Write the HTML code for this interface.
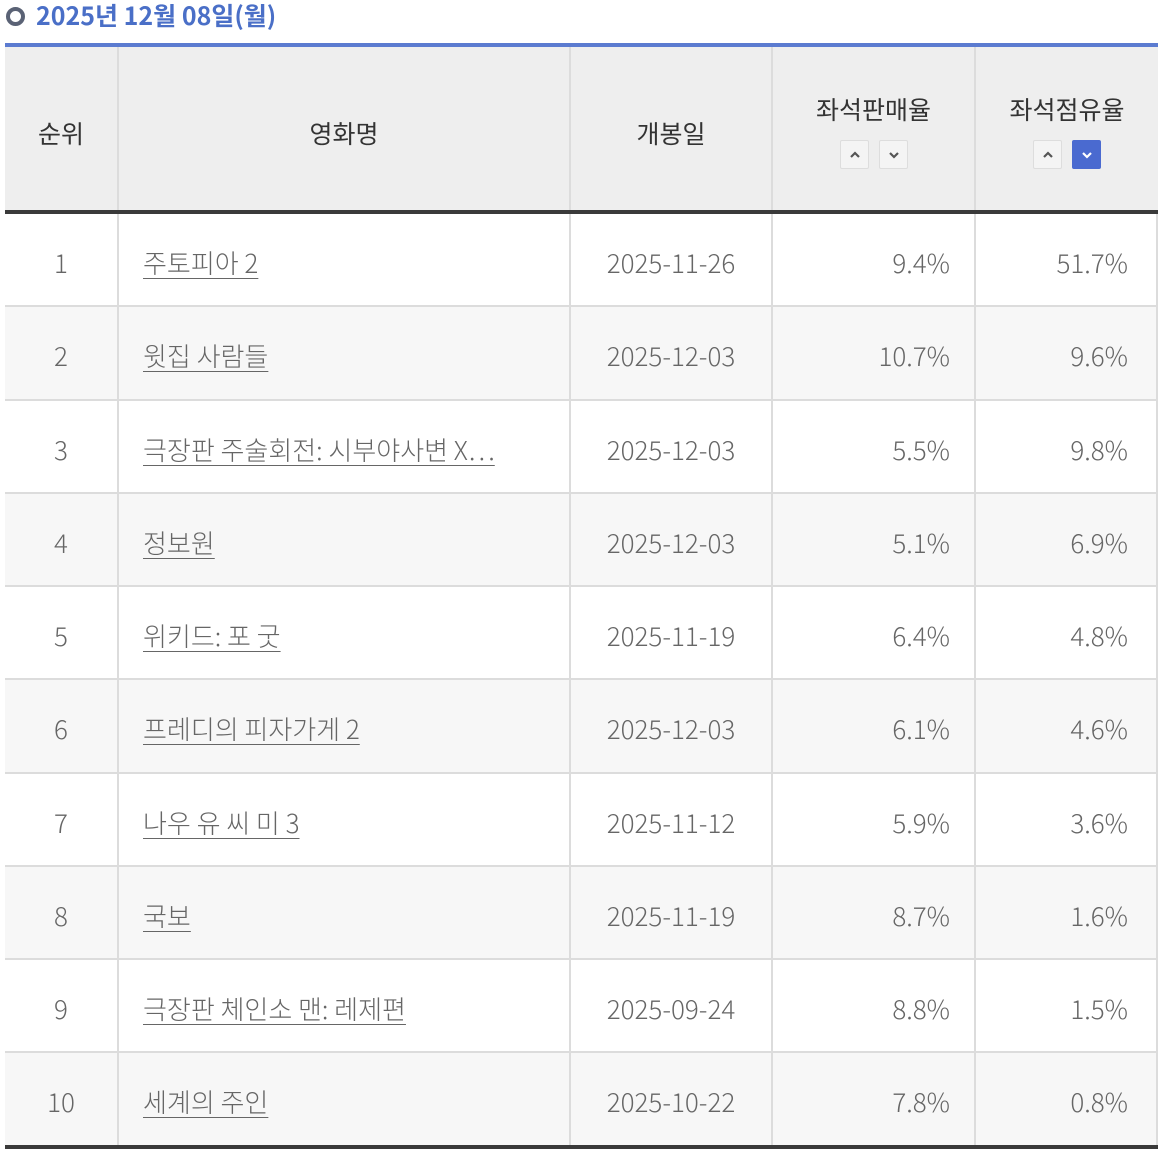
<!DOCTYPE html>
<html><head><meta charset="utf-8"><style>
*{margin:0;padding:0;box-sizing:border-box}
body{width:1158px;height:1151px;background:#fff;font-family:"Noto Sans CJK KR","Liberation Sans",sans-serif;position:relative;overflow:hidden}
.t{position:absolute;left:36px;top:-1px;font-size:25px;font-weight:bold;color:#4a6fc7;line-height:32px}
.c{position:absolute;left:6px;top:7px;width:19px;height:19px;border-radius:50%;border:4px solid #5a6275;background:#fff}
.row{position:absolute;left:5px;width:1153px;border-bottom:2px solid #dcdcdc}
.cell{position:absolute;top:0;height:100%;display:flex;align-items:center;font-size:26px;color:#666;border-right:2px solid #dcdcdc;padding-top:6px;font-weight:300}
.h .cell{color:#333;background:#eee;flex-direction:column;justify-content:center;padding-top:8px;font-weight:400;font-size:25px}
.a{text-decoration:underline;text-underline-offset:5px;text-decoration-thickness:1px}
.btn{display:inline-block;width:29px;height:29px;border:1px solid #ddd;background:#f4f4f4;margin:0 5px;vertical-align:middle;border-radius:2px;position:relative}
.btn svg{position:absolute;left:7px;top:7px}
.on{background:#4a6ad0;border-color:#4a6ad0}
</style></head><body>
<div class="c"></div><div class="t">2025년 12월 08일(월)</div>
<div style="position:absolute;left:5px;top:43px;width:1153px;height:4px;background:#5b7bd0"></div>
<div class="row h" style="top:47px;height:164px;border:none">
<div class="cell" style="left:0;width:114px">순위</div>
<div class="cell" style="left:114px;width:452px">영화명</div>
<div class="cell" style="left:566px;width:202px">개봉일</div>
<div class="cell" style="left:768px;width:203px"><div style="margin-top:-6px">좌석판매율</div><div style="margin-top:6px"><span class="btn"><svg width="14" height="14"><path d="M3 9 L7 5 L11 9" stroke="#555" stroke-width="2.2" fill="none"/></svg></span><span class="btn"><svg width="14" height="14"><path d="M3 5 L7 9 L11 5" stroke="#555" stroke-width="2.2" fill="none"/></svg></span></div></div>
<div class="cell" style="left:971px;width:182px;border-right:none"><div style="margin-top:-6px">좌석점유율</div><div style="margin-top:6px"><span class="btn"><svg width="14" height="14"><path d="M3 9 L7 5 L11 9" stroke="#555" stroke-width="2.2" fill="none"/></svg></span><span class="btn on"><svg width="14" height="14"><path d="M3 5 L7 9 L11 5" stroke="#fff" stroke-width="2.2" fill="none"/></svg></span></div></div>
</div>
<div style="position:absolute;left:5px;top:210px;width:1153px;height:4px;background:#3a3a3a"></div>
<div id="rows"></div>
<div style="position:absolute;left:5px;top:1145px;width:1153px;height:4px;background:#3a3a3a"></div>
<script>
var d=[["주토피아 2","2025-11-26","9.4%","51.7%"],["윗집 사람들","2025-12-03","10.7%","9.6%"],["극장판 주술회전: 시부야사변 X…","2025-12-03","5.5%","9.8%"],["정보원","2025-12-03","5.1%","6.9%"],["위키드: 포 굿","2025-11-19","6.4%","4.8%"],["프레디의 피자가게 2","2025-12-03","6.1%","4.6%"],["나우 유 씨 미 3","2025-11-12","5.9%","3.6%"],["국보","2025-11-19","8.7%","1.6%"],["극장판 체인소 맨: 레제편","2025-09-24","8.8%","1.5%"],["세계의 주인","2025-10-22","7.8%","0.8%"]];
var h="";d.forEach(function(r,i){var top=214+i*93.25;var bg=i%2?"#f7f7f7":"#fff";
h+='<div class="row" style="top:'+top+'px;height:93.25px;background:'+bg+'">'+
'<div class="cell" style="left:0;width:114px;justify-content:center">'+(i+1)+'</div>'+
'<div class="cell" style="left:114px;width:452px;padding-left:24px"><span class="a">'+r[0]+'</span></div>'+
'<div class="cell" style="left:566px;width:202px;justify-content:center">'+r[1]+'</div>'+
'<div class="cell" style="left:768px;width:203px;justify-content:flex-end;padding-right:24px">'+r[2]+'</div>'+
'<div class="cell" style="left:971px;width:182px;justify-content:flex-end;padding-right:28px;border-right:2px solid #dcdcdc">'+r[3]+'</div></div>';});
document.getElementById("rows").innerHTML=h;
</script>
</body></html>
